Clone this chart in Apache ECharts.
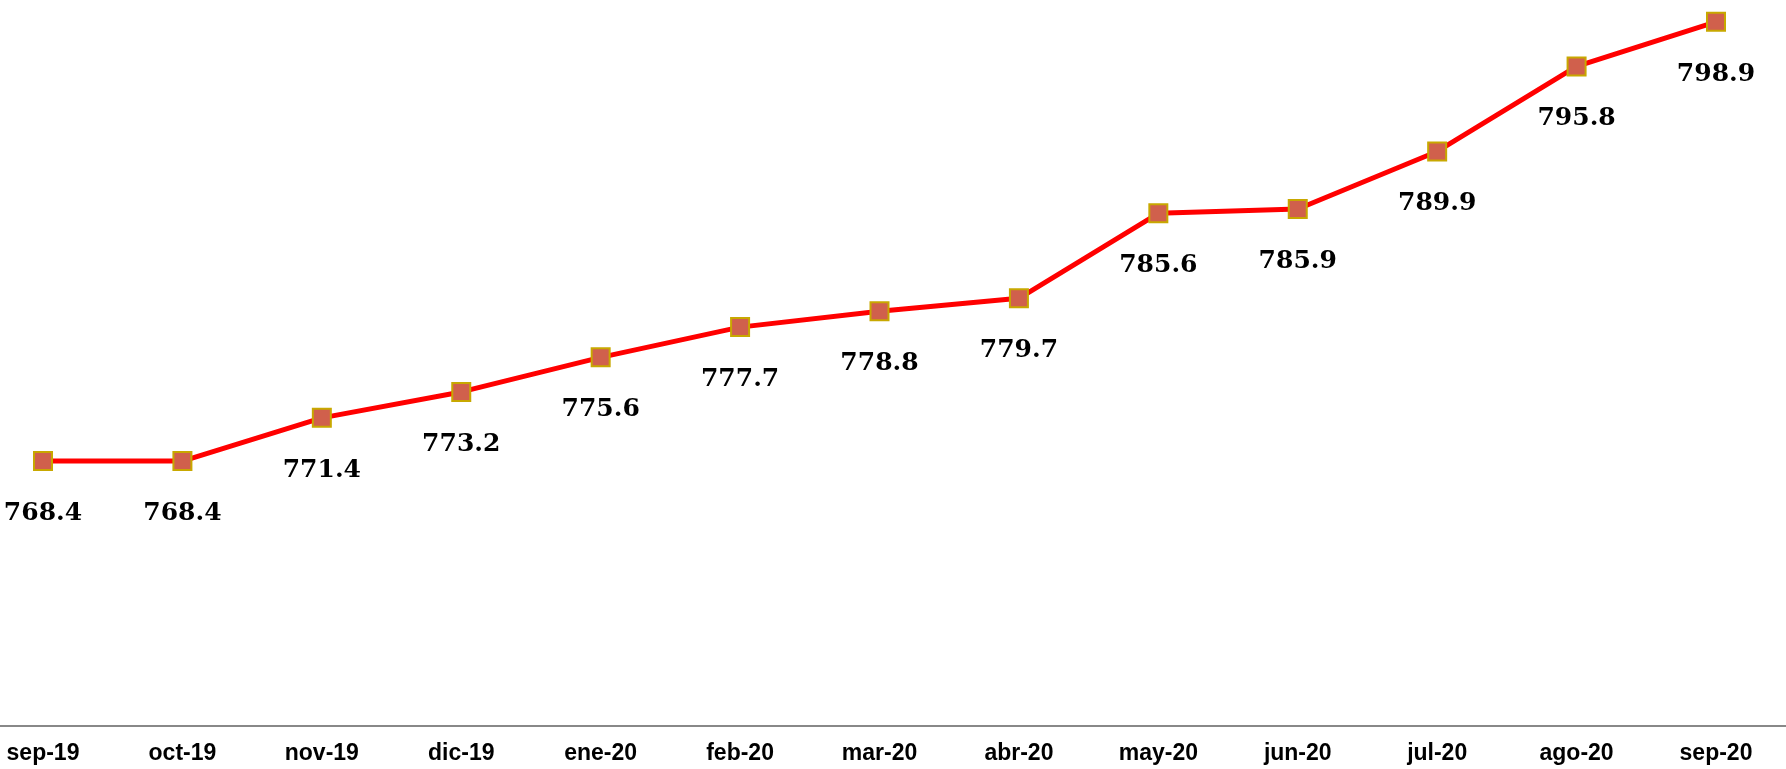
<!DOCTYPE html>
<html>
<head>
<meta charset="utf-8">
<script src="https://cdn.jsdelivr.net/npm/echarts@6/dist/echarts.min.js"></script>
<style>
html,body{margin:0;padding:0;background:#fff;}
#chart{width:1786px;height:769px;}
</style>
</head>
<body>
<div id="chart"></div>
<script>
const categories = ['sep-19','oct-19','nov-19','dic-19','ene-20','feb-20','mar-20','abr-20','may-20','jun-20','jul-20','ago-20','sep-20'];
const values = [768.4, 768.4, 771.4, 773.2, 775.6, 777.7, 778.8, 779.7, 785.6, 785.9, 789.9, 795.8, 798.9];

const chart = echarts.init(document.getElementById('chart'));
chart.setOption({
  animation: false,
  backgroundColor: '#ffffff',
  grid: [
    { left: 43, right: 70, top: 6, bottom: 43, containLabel: false },
    { left: 0, right: 0, top: 6, bottom: 43, containLabel: false }
  ],
  xAxis: [{
    type: 'category',
    gridIndex: 0,
    data: categories,
    boundaryGap: false,
    axisLine: { show: false },
    axisTick: { show: false },
    axisLabel: {
      interval: 0,
      margin: 16,
      color: '#000000',
      fontFamily: 'Liberation Sans, Arial, sans-serif',
      fontWeight: 'bold',
      fontSize: 23
    }
  }, {
    type: 'value',
    gridIndex: 1,
    min: 0,
    max: 1,
    axisLine: { show: true, onZero: false, lineStyle: { color: '#888888', width: 2 } },
    axisTick: { show: false },
    axisLabel: { show: false },
    splitLine: { show: false }
  }],
  yAxis: [{
    type: 'value',
    gridIndex: 0,
    min: 750,
    max: 800,
    show: false,
    splitLine: { show: false }
  }, {
    type: 'value',
    gridIndex: 1,
    min: 0,
    max: 1,
    show: false,
    splitLine: { show: false }
  }],
  series: [{
    type: 'line',
    xAxisIndex: 0,
    yAxisIndex: 0,
    data: values,
    symbol: 'rect',
    symbolSize: 18,
    lineStyle: { color: '#ff0000', width: 5 },
    itemStyle: { color: '#d0604c', borderColor: '#c8a800', borderWidth: 2 },
    label: {
      show: true,
      position: 'bottom',
      distance: 30,
      color: '#000000',
      fontFamily: 'DejaVu Serif, serif',
      fontWeight: 'bold',
      fontSize: 25,
      formatter: p => p.value.toFixed(1)
    }
  }]
});
</script>
</body>
</html>
